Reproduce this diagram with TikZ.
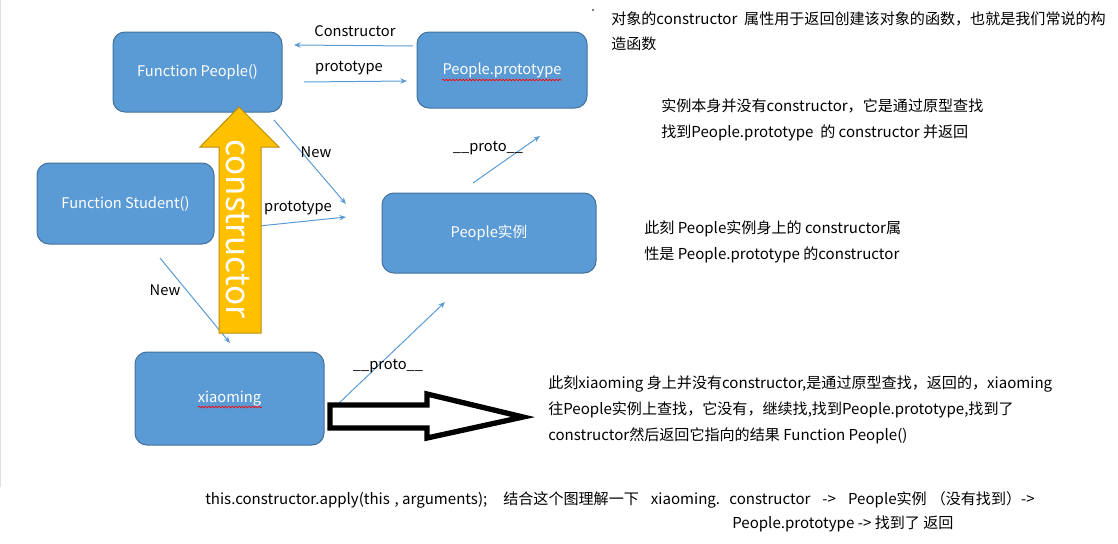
\documentclass[tikz,border=0pt]{standalone}
\usepackage{fontspec}
\setmainfont{Noto Sans CJK SC}
\usetikzlibrary{arrows.meta,decorations.pathmorphing}
\definecolor{boxblue}{HTML}{5B9BD5}
\definecolor{boxedge}{HTML}{41719C}
\definecolor{gold}{HTML}{FFC000}
\definecolor{goldedge}{HTML}{BC8C00}

\begin{document}
\begin{tikzpicture}[x = 0.75pt, y = -0.75pt,
                        box/.style = {rectangle, rounded corners = 9pt, draw = boxedge, fill = boxblue, line width = 0.75pt, text = white, font = \fontsize{11}{13}\selectfont},
                        link/.style = {draw = boxblue, line width = 0.75pt, -{Stealth[length = 5pt, width = 4pt]}},
                        lbl/.style = {font = \fontsize{11}{13}\selectfont, inner sep = 0pt},
                        note/.style = {font = \fontsize{11.3}{19.5}\selectfont, align = left, anchor = north west, inner sep = 0pt},
                        squiggle/.style = {draw = red, line width = 0.5pt, decorate, decoration = {snake, amplitude = 0.6pt, segment length = 2.5pt}}]
      \useasboundingbox (0, 0) rectangle (1118, 543);
      \draw [gray!25] (0.5, 0) -- (0.5, 487);
      \fill (593, 10) circle (0.6pt);

      \node [box, minimum width = 126.75pt, minimum height = 60pt] (fp) at (197.5, 72){Function People()};
      \node [box, minimum width = 127.5pt, minimum height = 57pt] (pp) at (502, 70){People.prototype};
      \node [box, minimum width = 132.75pt, minimum height = 60.75pt] (fs) at (125.5, 203.5){Function Student()};
      \node [box, minimum width = 160.5pt, minimum height = 60pt] (pi) at (489, 233){People实例};
      \node [box, minimum width = 141.75pt, minimum height = 69.75pt] (xm) at (229.5, 398.5){xiaoming};
      \draw [squiggle] (442, 80) -- (562, 80);
      \draw [squiggle] (198, 407) -- (262, 407);

      \coordinate (c1) at (413, 46);  \coordinate (c2) at (294, 45);
      \coordinate (p1) at (304, 82);  \coordinate (p2) at (407, 81);
      \coordinate (n1) at (274, 120); \coordinate (n2) at (346, 204);
      \coordinate (s1) at (240, 228); \coordinate (s2) at (346, 217);
      \coordinate (m1) at (160, 258); \coordinate (m2) at (230, 343);
      \coordinate (r1) at (473, 183); \coordinate (r2) at (540, 136);
      \coordinate (x1) at (337, 405); \coordinate (x2) at (445, 302);
      \draw [link] (c1) -- (c2);
      \draw [link] (p1) -- (p2);
      \draw [link] (n1) -- (n2);
      \draw [link] (s1) -- (s2);
      \draw [link] (m1) -- (m2);
      \draw [link] (r1) -- (r2);
      \draw [link] (x1) -- (x2);
      \node [lbl] (lc) at (355, 31){Constructor};
      \node [lbl] (lp) at (349, 68){prototype};
      \node [lbl] (ln) at (316, 152){New};
      \node [lbl] (ls) at (298, 208){prototype};
      \node [lbl] (lm) at (165, 290){New};
      \node [lbl] (lr) at (488, 148){\_\_proto\_\_};
      \node [lbl] (lx) at (388, 366){\_\_proto\_\_};

      \draw [fill = gold, draw = goldedge, line width = 0.75pt] (239, 107) -- (279, 147) -- (261, 147) -- (261, 333) -- (219, 333) -- (219, 147) -- (200, 147) -- cycle;
      \node [rotate = -90, text = white, font = \fontsize{25}{28}\selectfont, inner sep = 0pt] (ct) at (238, 229){constructor};

      \draw [line width = 4pt, line join = miter, fill = white] (330, 405) -- (427, 405) -- (427, 394) -- (523, 417) -- (427, 438) -- (427, 428) -- (330, 428) -- cycle;

      \node [note] (t1) at (611, 11){对象的constructor\ \ 属性用于返回创建该对象的函数，也就是我们常说的构\\造函数};
      \node [note] (t2) at (661, 98){实例本身并没有constructor，它是通过原型查找\\找到People.prototype\ \ 的 constructor 并返回};
      \node [note] (t3) at (644, 220){此刻 People实例身上的 constructor属\\性是 People.prototype 的constructor};
      \node [note] (t4) at (548, 375){此刻xiaoming 身上并没有constructor,是通过原型查找，返回的，xiaoming\\往People实例上查找，它没有，继续找,找到People.prototype,找到了\\constructor然后返回它指向的结果 Function People()};
      \node [note] (b1) at (205, 491){this.constructor.apply(this\hspace{1pt} , arguments);\hspace{12pt}结合这个图理解一下\hspace{9pt}xiaoming.\hspace{7pt}constructor\hspace{9pt}->\hspace{9pt}People实例\hspace{3pt}（没有找到）->};
      \node [note] (b2) at (732, 516){People.prototype -> 找到了 返回};
    \end{tikzpicture}
\end{document}
